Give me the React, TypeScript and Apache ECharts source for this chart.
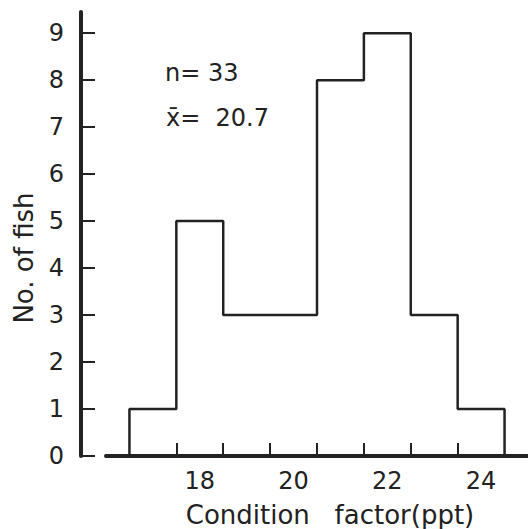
import React, { useEffect, useRef } from "react";
import * as echarts from "echarts";

const binEdges = [16.5, 17.5, 18.5, 19.5, 20.5, 21.5, 22.5, 23.5, 24.5];
const counts = [1, 5, 3, 3, 8, 9, 3, 1];
const xTickLabels = [18, 20, 22, 24];
const yTickLabels = [0, 1, 2, 3, 4, 5, 6, 7, 8, 9];
const statN = "n= 33";
const statMean = "x\u0304=  20.7";
const xTitle = "Condition   factor(ppt)";
const yTitle = "No. of fish";

const FONT = "DejaVu Sans";
const INK = "#222";

export default function App() {
  const ref = useRef<HTMLDivElement>(null);
  useEffect(() => {
    if (!ref.current) return;
    const chart = echarts.init(ref.current, null, { renderer: "svg" });
    const outline: number[][] = [[binEdges[0], 0]];
    counts.forEach((c, i) => {
      outline.push([binEdges[i], c]);
      outline.push([binEdges[i + 1], c]);
    });
    outline.push([binEdges[binEdges.length - 1], 0]);

    chart.setOption({
      animation: false,
      backgroundColor: "#fff",
      grid: { left: 106, right: 0, top: 12, bottom: 73, outerBoundsMode: "none", containLabel: false },
      xAxis: {
        type: "value",
        min: 16,
        max: 25,
        splitLine: { show: false },
        axisLine: { show: true, lineStyle: { color: INK, width: 4 } },
        axisTick: {
          show: true,
          inside: true,
          length: 13,
          customValues: binEdges.slice(1, -1),
          lineStyle: { color: INK, width: 2 },
        },
        axisLabel: {
          customValues: xTickLabels,
          margin: 13,
          fontFamily: FONT,
          fontSize: 24,
          color: INK,
        },
        name: xTitle,
        nameLocation: "middle",
        nameGap: 46,
        nameTextStyle: {
          fontFamily: FONT,
          fontSize: 26,
          color: INK,
          padding: [0, 0, 0, 26],
        },
      },
      yAxis: {
        type: "value",
        min: 0,
        max: 9.45,
        offset: 25,
        splitLine: { show: false },
        axisLine: { show: true, lineStyle: { color: INK, width: 4 } },
        axisTick: {
          show: true,
          inside: true,
          length: 14,
          customValues: yTickLabels,
          lineStyle: { color: INK, width: 2 },
        },
        axisLabel: {
          customValues: yTickLabels,
          margin: 17,
          fontFamily: FONT,
          fontSize: 24,
          color: INK,
        },
        name: yTitle,
        nameLocation: "middle",
        nameRotate: 90,
        nameGap: 44,
        nameTextStyle: {
          fontFamily: FONT,
          fontSize: 26,
          color: INK,
          padding: [0, 48, 0, 0],
        },
      },
      graphic: [
        {
          type: "text",
          left: 165,
          top: 61,
          style: { text: statN, fontFamily: FONT, fontSize: 24, fill: INK },
        },
        {
          type: "text",
          left: 166,
          top: 106,
          style: { text: statMean, fontFamily: FONT, fontSize: 24, fill: INK },
        },
      ],
      series: [
        {
          type: "line",
          data: outline,
          symbol: "none",
          lineStyle: { color: INK, width: 2.5 },
        },
      ],
    });
    return () => chart.dispose();
  }, []);
  return <div ref={ref} style={{ width: 528, height: 529, position: "absolute", left: 0, top: 0 }} />;
}
